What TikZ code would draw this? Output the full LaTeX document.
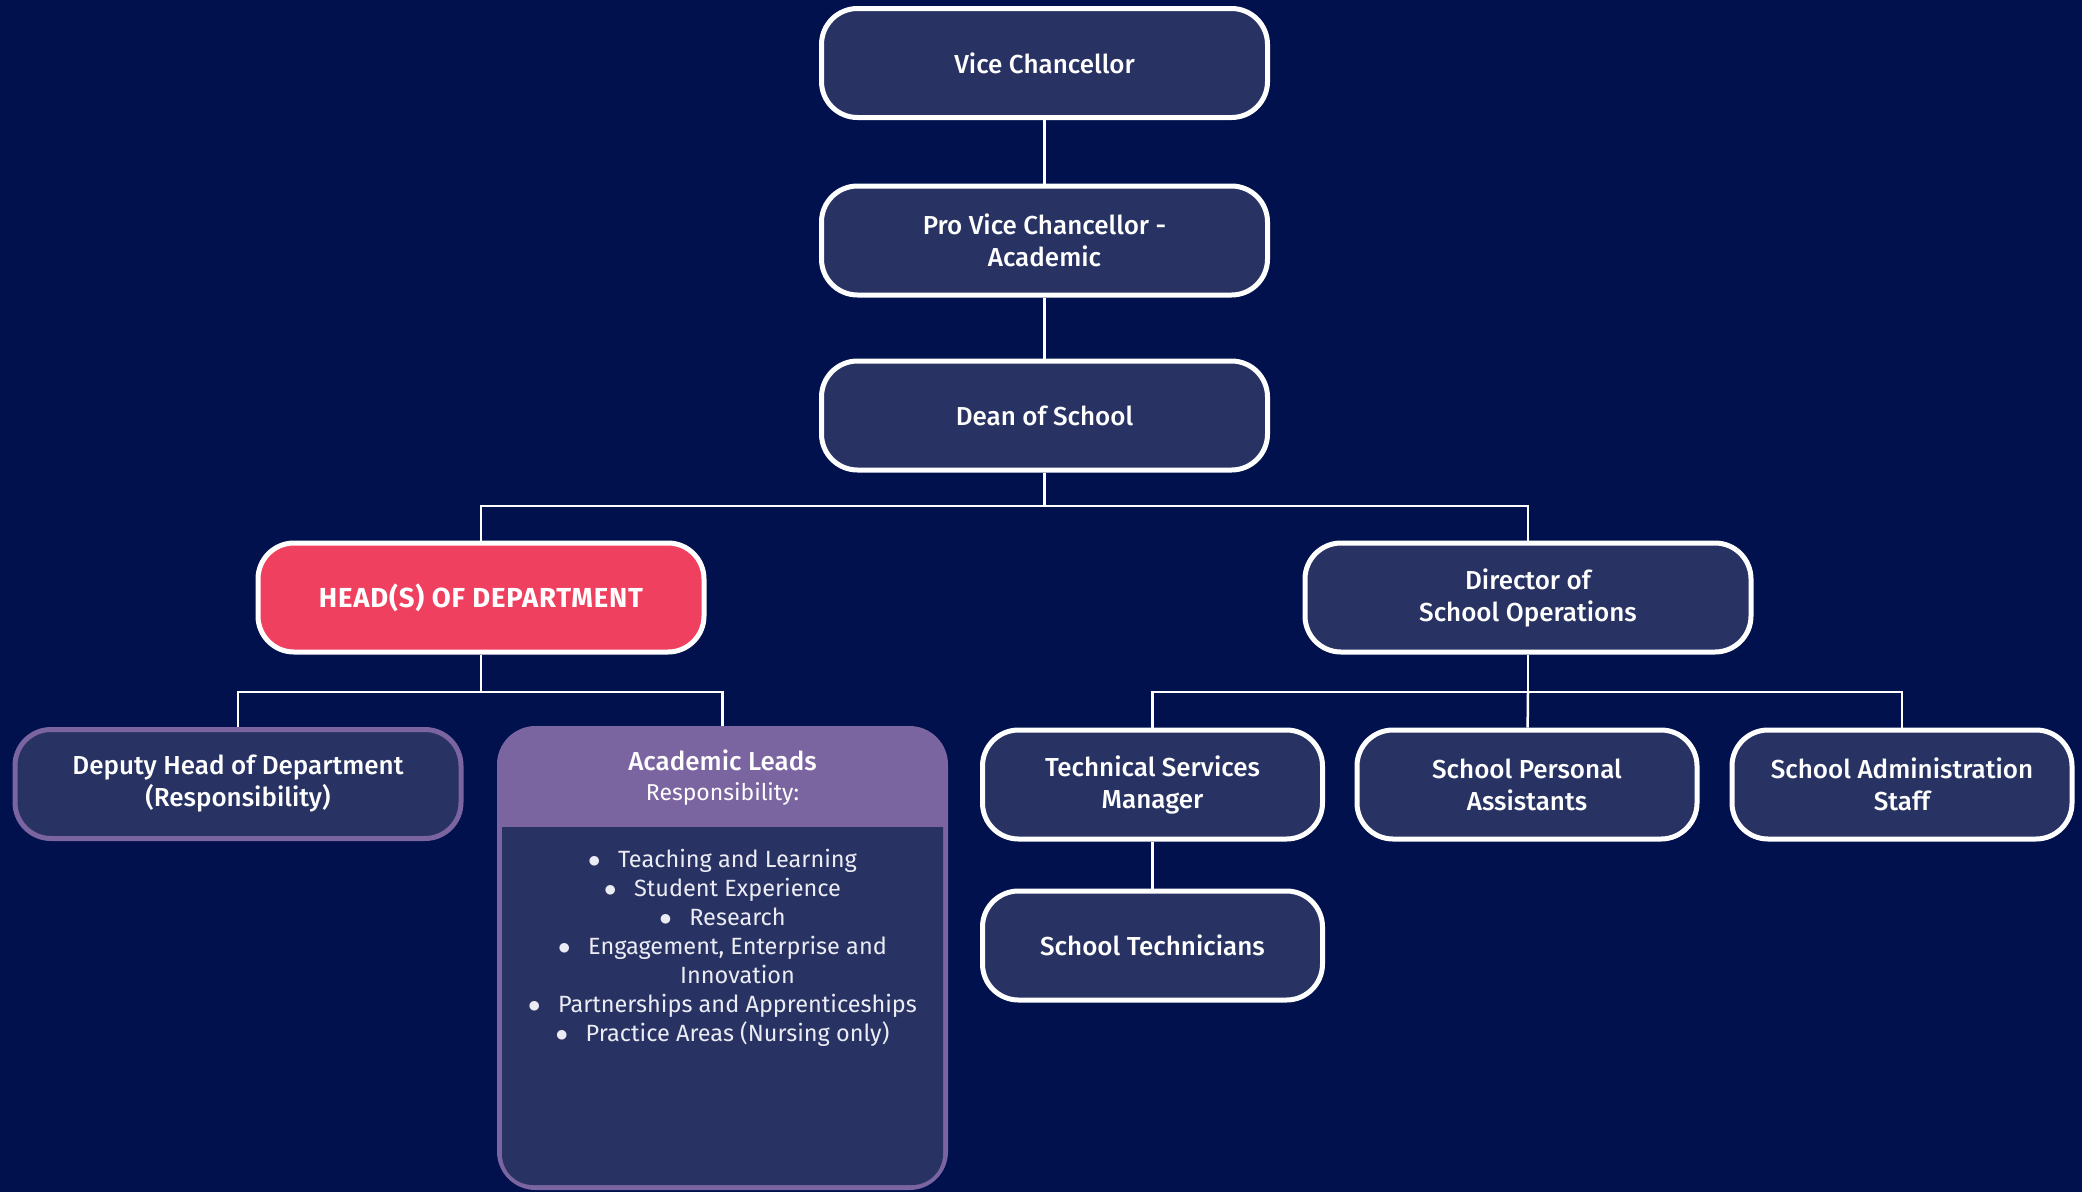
\documentclass[tikz,border=0pt]{standalone}
\usepackage{fontspec}
\setmainfont{Fira Sans}[BoldFont={Fira Sans Medium}]
\newfontfamily\capsfont{Fira Sans}[LetterSpace=3]
\usepackage{xcolor}
\definecolor{cNavy}{HTML}{00114E}
\definecolor{cBox}{HTML}{283364}
\definecolor{cHead}{HTML}{F0405F}
\definecolor{cLead}{HTML}{7A65A0}
\definecolor{cText}{HTML}{ECECF4}
\usepackage{tikz}
\usetikzlibrary{positioning,calc}
\tikzset{
  node-box/.style={draw=white,line width=5pt,fill=cBox,rounded corners=36pt,
    minimum width=446pt,minimum height=109pt,align=center,text=white,
    font=\fontsize{26}{32}\selectfont\bfseries},
  node-small/.style={node-box,minimum width=340pt},
  node-head/.style={node-box,fill=cHead,font=\capsfont\fontsize{27.5}{32}\selectfont\bfseries},
  node-deputy/.style={node-box,draw=cLead},
  node-lead/.style={draw=cLead,line width=5pt,fill=cLead,rounded corners=36pt,
    minimum width=446pt,minimum height=459pt},
  node-text/.style={align=center,text=cText,inner sep=0pt},
  link/.style={draw=white,line width=2.5pt},
}
\newcommand{\leadpoint}[1]{$\bullet$\hspace{0.75em}#1}

\begin{document}
\begin{tikzpicture}[x=1pt,y=-1pt]
  \path[use as bounding box,fill=cNavy] (0,0) rectangle (2082,1192);
  % top of the chart
  \node[node-box] (vc) at (1044.5,63) {Vice Chancellor};
  \node[node-box] (pvc) at (1044.5,240.5) {Pro Vice Chancellor -\\Academic};
  \node[node-box] (dean) at (1044.5,415.5) {Dean of School};
  \node[node-head] (hod) at (481,597.5) {HEAD(S) OF DEPARTMENT};
  \node[node-box] (dir) at (1528,597.5) {Director of\\School Operations};
  % department side
  \node[node-deputy] (deputy) at (238,784) {Deputy Head of Department\\(Responsibility)};
  \node[node-lead] (lead) at (722.5,958) {};
  \begin{scope}
    \clip[rounded corners=31pt] ($(lead.north west)+(5,5)$) rectangle ($(lead.south east)+(-5,-5)$);
    \fill[cBox] ($(lead.north west)+(0,101)$) rectangle (lead.south east);
  \end{scope}
  \node[node-text,text=white,font=\fontsize{23}{30}\selectfont] (lead-title) at (722.5,778)
    {{\bfseries\fontsize{26}{30}\selectfont Academic Leads}\\
     Responsibility:};
  \node[node-text,anchor=north,font=\fontsize{23.5}{29}\selectfont] (lead-list) at (722.5,849)
    {\leadpoint{Teaching and Learning}\\
     \leadpoint{Student Experience}\\
     \leadpoint{Research}\\
     \leadpoint{Engagement, Enterprise and}\\
     \phantom{$\bullet$\hspace{0.75em}}Innovation\\
     \leadpoint{Partnerships and Apprenticeships}\\
     \leadpoint{Practice Areas (Nursing only)}};
  % operations side
  \node[node-small] (tsm) at (1152.5,784.5) {Technical Services\\Manager};
  \node[node-small] (spa) at (1527,784.5) {School Personal\\Assistants};
  \node[node-small] (sas) at (1902,784.5) {School Administration\\Staff};
  \node[node-small] (tech) at (1152.5,945.5) {School Technicians};
  % connectors
  \coordinate (bar-top) at (1044.5,506);
  \coordinate (bar-hod) at (481,692);
  \coordinate (bar-dir) at (1528,692);
  \draw[link] (vc) -- (pvc);
  \draw[link] (pvc) -- (dean);
  \draw[link] (dean) -- (bar-top) -| (hod);
  \draw[link] (bar-top) -| (dir);
  \draw[link] (hod) -- (bar-hod) -| (deputy);
  \draw[link] (bar-hod) -| (lead);
  \draw[link] (dir) -- (bar-dir) -| (tsm);
  \draw[link] (bar-dir) -- (spa);
  \draw[link] (bar-dir) -| (sas);
  \draw[link] (tsm) -- (tech);
\end{tikzpicture}
\end{document}
